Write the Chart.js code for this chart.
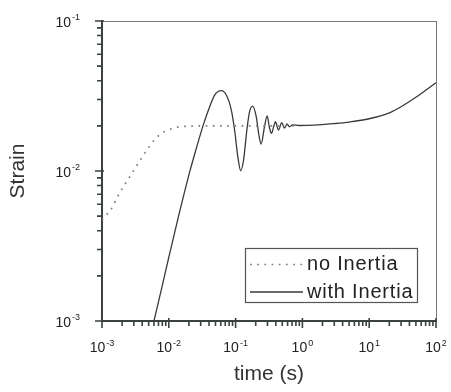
<!DOCTYPE html>
<html><head><meta charset="utf-8">
<script src="https://cdn.jsdelivr.net/npm/chart.js@4/dist/chart.umd.min.js"></script>
<style>html,body{margin:0;padding:0;background:#fff}#wrap{width:451px;height:392px}</style>
</head><body><div id="wrap"><canvas id="c" width="451" height="392"></canvas></div>
<script>
// ---- data ----
const xTickValues = [1e-3, 1e-2, 1e-1, 1, 10, 100];
const xTickExponents = ['-3', '-2', '-1', '0', '1', '2'];
const yTickValues = [1e-3, 1e-2, 1e-1];
const yTickExponents = ['-3', '-2', '-1'];
const tickBase = '10';

const seriesLabels = ['no Inertia', 'with Inertia'];

const noInertiaTime = [0.001, 0.0011, 0.00135, 0.0015, 0.0017, 0.002, 0.0023, 0.0027, 0.0032, 0.0036, 0.0043, 0.005, 0.006, 0.0076, 0.01, 0.0127, 0.016, 0.02, 0.03, 0.05, 0.1, 0.2, 0.4, 0.8];
const noInertiaStrain = [0.0047, 0.00496, 0.0055, 0.006, 0.0067, 0.0076, 0.0084, 0.0094, 0.0106, 0.0115, 0.013, 0.0144, 0.016, 0.0177, 0.0188, 0.0195, 0.0198, 0.0199, 0.02, 0.02, 0.02, 0.02, 0.02, 0.02];

const withInertiaTime = [0.006, 0.008, 0.01, 0.014, 0.0206, 0.026, 0.0325, 0.0409, 0.0486, 0.0612, 0.0726, 0.0863, 0.0966, 0.108, 0.119, 0.1316, 0.1475, 0.1618, 0.181, 0.2037, 0.223, 0.241, 0.271, 0.297, 0.319, 0.344, 0.372, 0.395, 0.438, 0.491, 0.538, 0.589, 0.64, 0.71, 0.9, 1.5, 3, 5, 10, 20, 30, 50, 70, 100];
const withInertiaStrain = [0.001, 0.00173, 0.00266, 0.005, 0.0099, 0.0143, 0.02, 0.0268, 0.0321, 0.0343, 0.0321, 0.0255, 0.01876, 0.01245, 0.01005, 0.01184, 0.01876, 0.0249, 0.0271, 0.023, 0.01738, 0.0151, 0.0198, 0.0233, 0.0198, 0.0178, 0.0198, 0.0213, 0.01876, 0.021, 0.0193, 0.0206, 0.0197, 0.0203, 0.0201, 0.0202, 0.0207, 0.0212, 0.0223, 0.0244, 0.0268, 0.031, 0.0345, 0.0388];

// ---- styling ----
const FONT = '"Liberation Sans", Arial, Helvetica, sans-serif';
const AXIS_COLOR = '#3b423e';
const toXY = (xs, ys) => xs.map((x, i) => ({x: x, y: ys[i]}));

function drawPowerLabel(ctx, base, exp, x, baseline, align) {
  ctx.font = '14px ' + FONT;
  const w1 = ctx.measureText(base).width;
  ctx.font = '9px ' + FONT;
  const w2 = ctx.measureText(exp).width + 1;
  const total = w1 + w2;
  let start = align === 'right' ? x - total : x - total / 2;
  ctx.textAlign = 'left';
  ctx.textBaseline = 'alphabetic';
  ctx.font = '14px ' + FONT;
  ctx.fillText(base, start, baseline);
  ctx.font = '9px ' + FONT;
  ctx.fillText(exp, start + w1 + 1, baseline - 6.5);
}

const axisDecorPlugin = {
  id: 'axisDecor',
  afterDraw(chart) {
    const {ctx, chartArea: a, scales} = chart;
    ctx.save();
    // top and right frame
    ctx.strokeStyle = '#7a7a7a';
    ctx.lineWidth = 1;
    ctx.beginPath();
    ctx.moveTo(a.left, a.top + 0.5); ctx.lineTo(a.right + 0.5, a.top + 0.5);
    ctx.moveTo(a.right + 0.5, a.top); ctx.lineTo(a.right + 0.5, a.bottom);
    ctx.stroke();
    ctx.strokeStyle = AXIS_COLOR;
    ctx.lineWidth = 1.6;
    ctx.beginPath();
    // y ticks (outward, left)
    for (let e = -3; e <= -1; e++) {
      const yp = scales.y.getPixelForValue(Math.pow(10, e));
      ctx.moveTo(a.left - 7, yp); ctx.lineTo(a.left + 2, yp);
      if (e < -1) {
        for (let m = 2; m <= 9; m++) {
          const ym = scales.y.getPixelForValue(m * Math.pow(10, e));
          ctx.moveTo(a.left - 5, ym); ctx.lineTo(a.left, ym);
        }
      }
    }
    // x ticks (outward, below)
    for (let e = -3; e <= 2; e++) {
      const xp = scales.x.getPixelForValue(Math.pow(10, e));
      ctx.moveTo(xp, a.bottom - 3); ctx.lineTo(xp, a.bottom + 7);
      if (e < 2) {
        for (let m = 2; m <= 9; m++) {
          const xm = scales.x.getPixelForValue(m * Math.pow(10, e));
          ctx.moveTo(xm, a.bottom); ctx.lineTo(xm, a.bottom + 5);
        }
      }
    }
    ctx.stroke();
    // tick labels: 10 with superscript exponent
    ctx.fillStyle = '#222';
    xTickValues.forEach((v, i) => {
      drawPowerLabel(ctx, tickBase, xTickExponents[i], scales.x.getPixelForValue(v), a.bottom + 31, 'center');
    });
    yTickValues.forEach((v, i) => {
      drawPowerLabel(ctx, tickBase, yTickExponents[i], a.left - 22, scales.y.getPixelForValue(v) + 5.5, 'right');
    });
    ctx.restore();
  }
};

const boxLegendPlugin = {
  id: 'boxLegend',
  afterDraw(chart) {
    const {ctx, chartArea: a} = chart;
    const w = 172, h = 54;
    const x0 = Math.round(a.right - 19 - w), y0 = Math.round(a.bottom - 19 - h);
    ctx.save();
    ctx.fillStyle = '#fff';
    ctx.fillRect(x0, y0, w, h);
    ctx.strokeStyle = '#555';
    ctx.lineWidth = 1.2;
    ctx.strokeRect(x0 + 0.5, y0 + 0.5, w, h);
    chart.data.datasets.forEach((ds, i) => {
      const yy = y0 + 16.5 + i * 27.5;
      ctx.beginPath();
      ctx.setLineDash(ds.borderDash || []);
      ctx.strokeStyle = ds.borderColor;
      ctx.lineWidth = ds.borderWidth;
      ctx.moveTo(x0 + 5, yy); ctx.lineTo(x0 + 58, yy);
      ctx.stroke();
      ctx.setLineDash([]);
      ctx.fillStyle = '#222';
      ctx.font = '20px ' + FONT;
      if ('letterSpacing' in ctx) ctx.letterSpacing = '0.8px';
      ctx.textBaseline = 'alphabetic';
      ctx.textAlign = 'left';
      ctx.fillText(ds.label, x0 + 62, yy + 5.5);
    });
    ctx.restore();
  }
};

new Chart(document.getElementById('c'), {
  type: 'scatter',
  data: {
    datasets: [
      {
        label: seriesLabels[0],
        data: toXY(noInertiaTime, noInertiaStrain),
        showLine: true,
        borderColor: '#7d7d7d',
        borderWidth: 1.7,
        borderDash: [1.7, 5.5],
        pointRadius: 0,
        cubicInterpolationMode: 'monotone',
        fill: false
      },
      {
        label: seriesLabels[1],
        data: toXY(withInertiaTime, withInertiaStrain),
        showLine: true,
        borderColor: '#3a3a3a',
        borderWidth: 1.3,
        pointRadius: 0,
        cubicInterpolationMode: 'monotone',
        fill: false
      }
    ]
  },
  options: {
    responsive: false,
    devicePixelRatio: 1,
    animation: false,
    layout: {padding: {top: 21, right: 15, left: 0, bottom: 0}},
    plugins: {legend: {display: false}, tooltip: {enabled: false}},
    scales: {
      x: {
        type: 'logarithmic',
        position: 'bottom',
        min: 1e-3, max: 100,
        afterBuildTicks: s => { s.ticks = xTickValues.map(v => ({value: v})); },
        afterFit: s => { s.height = 71; s.paddingLeft = 0; s.paddingRight = 0; s.paddingTop = 0; s.paddingBottom = 0; },
        ticks: {display: false},
        grid: {display: false, drawTicks: false},
        border: {display: true, color: AXIS_COLOR, width: 2},
        title: {display: true, text: 'time (s)', color: '#333', font: {family: FONT, size: 21}, padding: {top: 0, bottom: 5}}
      },
      y: {
        type: 'logarithmic',
        position: 'left',
        min: 1e-3, max: 1e-1,
        afterBuildTicks: s => { s.ticks = yTickValues.map(v => ({value: v})); },
        afterFit: s => { s.width = 102; s.paddingLeft = 0; s.paddingRight = 0; s.paddingTop = 0; s.paddingBottom = 0; },
        ticks: {display: false},
        grid: {display: false, drawTicks: false},
        border: {display: true, color: AXIS_COLOR, width: 2},
        title: {display: true, text: 'Strain', color: '#333', font: {family: FONT, size: 21}, padding: {top: 6, bottom: 0}}
      }
    }
  },
  plugins: [axisDecorPlugin, boxLegendPlugin]
});
</script>
</body></html>
